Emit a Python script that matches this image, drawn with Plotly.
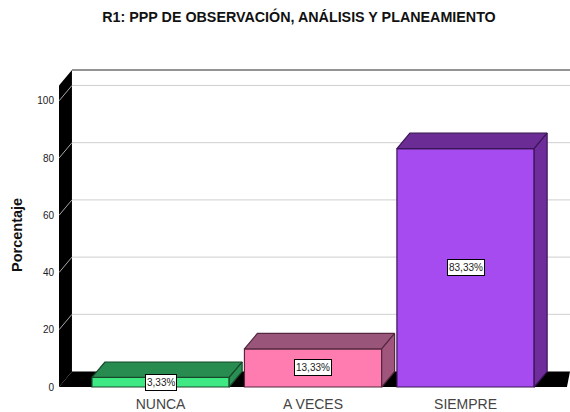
import plotly.graph_objects as go

categories = ["NUNCA", "A VECES", "SIEMPRE"]
values = [3.33, 13.33, 83.33]
y_ticks = [0, 20, 40, 60, 80, 100]

front_colors = ["#3EE882", "#FF7CB0", "#A64BF0"]
top_colors = ["#288C50", "#99557A", "#6B2C96"]
side_colors = ["#2A8F52", "#A0557C", "#6F2D9C"]
edge_colors = ["#17482B", "#55283F", "#3A1656"]

# 3D look, offsets in axis units
bar_width = 0.9
depth_x = 0.085
depth_y = 5.4
x_min = -0.666
x_max = 2.685
y_min = -0.35
y_max = 114.3
wall_top = 110.8

fig = go.Figure()

fig.add_trace(go.Bar(
    x=list(range(len(categories))),
    y=values,
    width=bar_width,
    marker=dict(color=front_colors, line=dict(color=edge_colors, width=1.2)),
    showlegend=False,
    hoverinfo="skip",
))

# top and side faces of the bars
for i, v in enumerate(values):
    left = i - bar_width / 2
    right = i + bar_width / 2
    fig.add_trace(go.Scatter(
        x=[left, left + depth_x, right + depth_x, right, left],
        y=[v, v + depth_y, v + depth_y, v, v],
        mode="lines",
        fill="toself",
        fillcolor=top_colors[i],
        line=dict(color=edge_colors[i], width=1.2),
        showlegend=False,
        hoverinfo="skip",
    ))
    fig.add_trace(go.Scatter(
        x=[right, right + depth_x, right + depth_x, right, right],
        y=[v, v + depth_y, depth_y, 0, v],
        mode="lines",
        fill="toself",
        fillcolor=side_colors[i],
        line=dict(color=edge_colors[i], width=1.2),
        showlegend=False,
        hoverinfo="skip",
    ))

# walls and floor
shapes = [
    dict(type="path", layer="below", line=dict(width=0), fillcolor="black",
         path=f"M {x_min},{wall_top - depth_y} L {x_min + depth_x},{wall_top} "
              f"L {x_min + depth_x},{depth_y} L {x_min},0 Z"),
    dict(type="path", layer="below", line=dict(width=0), fillcolor="black",
         path=f"M {x_min},0 L {x_min + depth_x},{depth_y} L {x_max},{depth_y} "
              f"L {x_max - 0.02},0 Z"),
    dict(type="line", layer="below", line=dict(color="#2a2a2a", width=1.2),
         x0=x_min + depth_x, x1=x_max, y0=wall_top, y1=wall_top),
]
for t in y_ticks[1:]:
    shapes.append(dict(type="line", layer="below", line=dict(color="#cfcfcf", width=1),
                       x0=x_min + depth_x, x1=x_max, y0=t + depth_y, y1=t + depth_y))
    shapes.append(dict(type="line", layer="below", line=dict(color="#a8a8a8", width=1),
                       x0=x_min, x1=x_min + depth_x, y0=t, y1=t + depth_y))

annotations = []
for i, v in enumerate(values):
    annotations.append(dict(
        x=i, y=v / 2,
        text=f"{v:.2f}".replace(".", ",") + "%",
        showarrow=False,
        height=13,
        font=dict(family="Liberation Sans", size=10, color="#222222"),
        bgcolor="white",
        bordercolor="black",
        borderwidth=1,
        borderpad=1,
    ))

# axis title as annotation, it is not centred on the plot area
annotations.append(dict(
    xref="paper", x=-0.081, xanchor="center",
    yref="y", y=53, yanchor="middle",
    text="<b>Porcentaje</b>",
    textangle=-90,
    showarrow=False,
    font=dict(family="Liberation Sans", size=14.5, color="#111111"),
))

fig.update_layout(
    width=570,
    height=412,
    margin=dict(l=59, r=0, t=60, b=24),
    paper_bgcolor="white",
    plot_bgcolor="white",
    shapes=shapes,
    annotations=annotations,
    title=dict(
        text="<b>R1: PPP DE OBSERVACIÓN, ANÁLISIS Y PLANEAMIENTO</b>",
        x=299 / 570,
        xanchor="center",
        y=1 - 17 / 412,
        yanchor="middle",
        font=dict(family="Liberation Sans", size=14.3, color="#111111"),
    ),
    xaxis=dict(
        range=[x_min, x_max],
        tickvals=list(range(len(categories))),
        ticktext=categories,
        showgrid=False,
        zeroline=False,
        showline=False,
        ticks="outside",
        ticklen=3,
        tickcolor="rgba(0,0,0,0)",
        tickfont=dict(family="Liberation Sans", size=14, color="#444444"),
    ),
    yaxis=dict(
        range=[y_min, y_max],
        tickvals=y_ticks,
        showgrid=False,
        zeroline=False,
        showline=False,
        ticks="outside",
        ticklen=2,
        tickcolor="rgba(0,0,0,0)",
        tickfont=dict(family="Liberation Sans", size=10, color="#222222"),
    ),
)

fig.write_html("out.html", config=dict(displayModeBar=False),
               post_script="document.body.style.margin='0';document.body.style.overflow='hidden';")
